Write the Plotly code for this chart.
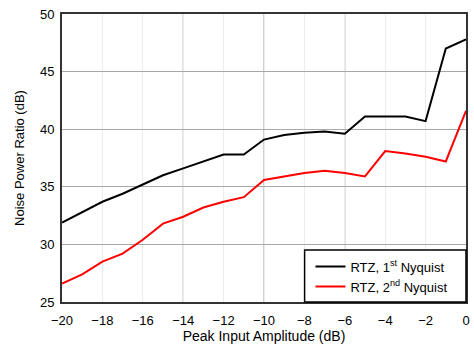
import plotly.graph_objects as go

# Peak input amplitude (dB)
amplitude = [-20, -19, -18, -17, -16, -15, -14, -13, -12, -11, -10,
             -9, -8, -7, -6, -5, -4, -3, -2, -1, 0]

# Noise power ratio (dB), RTZ mode, 1st Nyquist zone
npr_1st = [31.9, 32.8, 33.7, 34.4, 35.2, 36.0, 36.6, 37.2, 37.8, 37.8, 39.1,
           39.5, 39.7, 39.8, 39.6, 41.1, 41.1, 41.1, 40.7, 47.0, 47.8]

# Noise power ratio (dB), RTZ mode, 2nd Nyquist zone
npr_2nd = [26.6, 27.4, 28.5, 29.2, 30.4, 31.8, 32.4, 33.2, 33.7, 34.1, 35.6,
           35.9, 36.2, 36.4, 36.2, 35.9, 38.1, 37.9, 37.6, 37.2, 41.6]

x_ticks = list(range(-20, 1, 2))
y_ticks = list(range(25, 51, 5))
emphasised_x_grid = [-14, -10, -6]

font_family = "Liberation Sans, Arial, sans-serif"

fig = go.Figure()
fig.add_trace(go.Scatter(
    x=amplitude, y=npr_1st, mode="lines",
    name="RTZ, 1<sup>st</sup> Nyquist",
    line=dict(color="#000000", width=2),
))
fig.add_trace(go.Scatter(
    x=amplitude, y=npr_2nd, mode="lines",
    name="RTZ, 2<sup>nd</sup> Nyquist",
    line=dict(color="#ff0000", width=2),
))

# stronger vertical grid lines
for gx in emphasised_x_grid:
    fig.add_shape(type="line", xref="x", yref="paper",
                  x0=gx, x1=gx, y0=0, y1=1,
                  line=dict(color="#a0a0a0", width=1), layer="below")

# legend frame in the lower right corner of the plot
fig.add_shape(type="rect", xref="paper", yref="paper",
              x0=0.6005, x1=1, y0=0, y1=0.1806,
              fillcolor="white", line=dict(color="#000000", width=1.5),
              layer="above")

fig.update_layout(
    width=474, height=350,
    margin=dict(l=62, r=4, t=14, b=48),
    paper_bgcolor="white", plot_bgcolor="white",
    font=dict(family=font_family, size=13, color="#000000"),
    showlegend=True,
    legend=dict(
        x=0.615, xanchor="left", y=0.175, yanchor="top",
        bgcolor="rgba(0,0,0,0)", borderwidth=0,
        font=dict(size=13, family=font_family),
        itemwidth=30,
    ),
    xaxis=dict(
        range=[-20, 0], tickvals=x_ticks,
        showgrid=True, gridcolor="#ececec", gridwidth=1,
        showline=True, linecolor="#333333", linewidth=2, mirror=True,
        ticks="outside", ticklen=5, tickcolor="rgba(0,0,0,0)",
        zeroline=False,
        title=dict(text="Peak Input Amplitude (dB)", standoff=2,
                   font=dict(size=14)),
        tickfont=dict(size=13),
    ),
    yaxis=dict(
        range=[25, 50], tickvals=y_ticks,
        showgrid=True, gridcolor="#a8a8a8", gridwidth=1,
        showline=True, linecolor="#333333", linewidth=2, mirror=True,
        ticks="outside", ticklen=3, tickcolor="rgba(0,0,0,0)",
        zeroline=False,
        title=dict(text="Noise Power Ratio (dB)", standoff=12,
                   font=dict(size=13)),
        tickfont=dict(size=13),
    ),
)

fig.write_html("out.html")
